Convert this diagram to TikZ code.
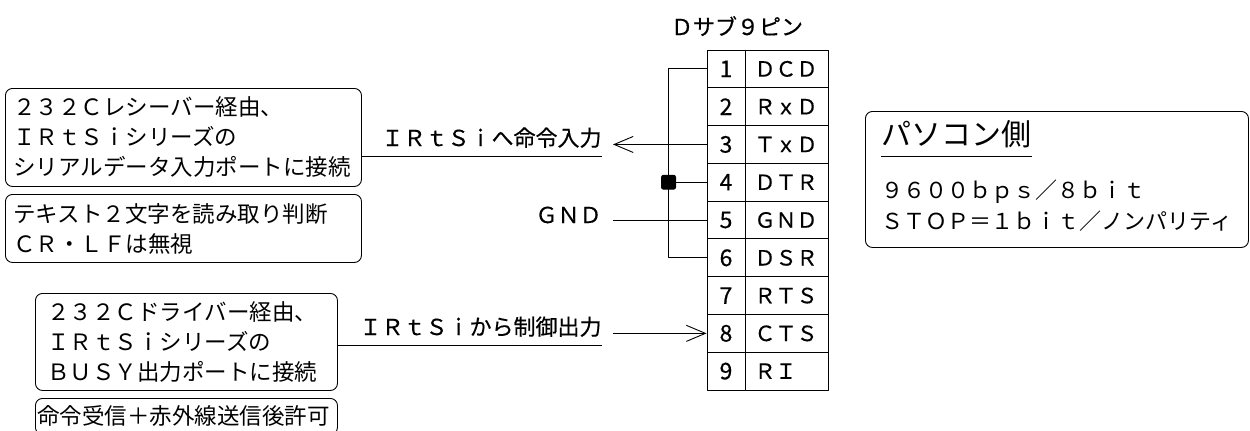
\documentclass[tikz,border=0pt]{standalone}
\usepackage{fontspec}
\newfontfamily\jp{Noto Sans CJK JP}
\newfontfamily\jpg[FakeBold=0.4]{Noto Sans CJK JP}
\usetikzlibrary{arrows.meta}
\begin{document}
\begin{tikzpicture}[x=1bp,y=-1bp,line width=0.9bp,line join=round,
	>={Straight Barb[length=19bp,width=16bp]},
	font=\jpg\fontsize{22bp}{30bp}\selectfont,
	memo/.style={draw,rounded corners=7bp,anchor=north west,align=left,inner xsep=8bp,inner ysep=0pt,font=\jp\fontsize{22.5bp}{30bp}\selectfont},
	cell/.style={draw,minimum height=37.78bp,inner sep=0pt},
	lbl/.style={anchor=base east,inner sep=0pt}]
	\useasboundingbox (0,0) rectangle (1250,430);
	% left side notes
	\node[memo,minimum width=356bp,minimum height=98bp,text width=340bp] (recv) at (5,88) {２３２Ｃレシーバー経由、\\ＩＲｔＳｉシリーズの\\シリアルデータ入力ポートに接続};
	\node[memo,minimum width=356bp,minimum height=68bp,text width=340bp] (judge) at (5,194) {テキスト２文字を読み取り判断\\ＣＲ・ＬＦは無視};
	\node[memo,inner xsep=12bp,minimum width=302bp,minimum height=97bp,text width=278bp] (drv) at (35,293) {２３２Ｃドライバー経由、\\ＩＲｔＳｉシリーズの\\ＢＵＳＹ出力ポートに接続};
	\node[memo,inner xsep=2bp,minimum width=302bp,minimum height=36bp,text width=298bp] (allow) at (35,398) {命令受信＋赤外線送信後許可};
	% signal labels
	\node[lbl] (cmdin) at (602,146) {ＩＲｔＳｉへ命令入力};
	\node[lbl] (gnd) at (602,223) {ＧＮＤ};
	\node[lbl] (ctlout) at (602,335) {ＩＲｔＳｉから制御出力};
	\node[anchor=base,inner sep=0pt] (dsub) at (737,35) {Ｄサブ９ピン};
	% connector pins
	\foreach \n/\s in {1/ＤＣＤ,2/ＲｘＤ,3/ＴｘＤ,4/ＤＴＲ,5/ＧＮＤ,6/ＤＳＲ,7/ＲＴＳ,8/ＣＴＳ,9/ＲＩ}{
		\node[cell,minimum width=38bp,font=\jpg\fontsize{23bp}{24bp}\selectfont] (p\n) at (726,{50+(\n-0.5)*37.78}) {\n};
		\node[cell,minimum width=83bp,text width=64bp,align=left,inner xsep=9.5bp,font=\jpg\fontsize{21bp}{24bp}\selectfont] (s\n) at (786.5,{50+(\n-0.5)*37.78}) {\s};
	}
	% loop back 1-4-6
	\draw (p1.west) -- ++(-38,0) |- (p6.west);
	\draw (p4.west) -- ++(-38,0) node[draw,fill=black,rounded corners=2bp,minimum size=14bp,inner sep=0pt] (jn) {};
	% signal lines
	\coordinate (txend) at (613,0);
	\coordinate (ulin) at (602,156);
	\coordinate (ulout) at (602,345);
	\draw[->] (p3.west) -- (p3.west -| txend);
	\draw (p5.west -| txend) -- (p5.west);
	\draw[->] (p8.west -| txend) -- (p8.west);
	\draw (recv.east |- ulin) -- (ulin);
	\draw (drv.east |- ulout) -- (ulout);
	% PC side
	\node[memo,minimum width=383bp,minimum height=136bp] (pc) at (865,111) {};
	\node[anchor=base west,inner sep=0pt,font=\jp\fontsize{30bp}{30bp}\selectfont] (pctitle) at (881,145) {パソコン側};
	\draw ([yshift=-11bp]pctitle.base west) -- ([yshift=-11bp]pctitle.base east);
	\node[anchor=north west,inner sep=0pt,align=left,font=\jp\fontsize{22bp}{31bp}\selectfont] (pcspec) at (881,179) {９６００ｂｐｓ／８ｂｉｔ\\ＳＴＯＰ＝１ｂｉｔ／ノンパリティ};
\end{tikzpicture}
\end{document}
